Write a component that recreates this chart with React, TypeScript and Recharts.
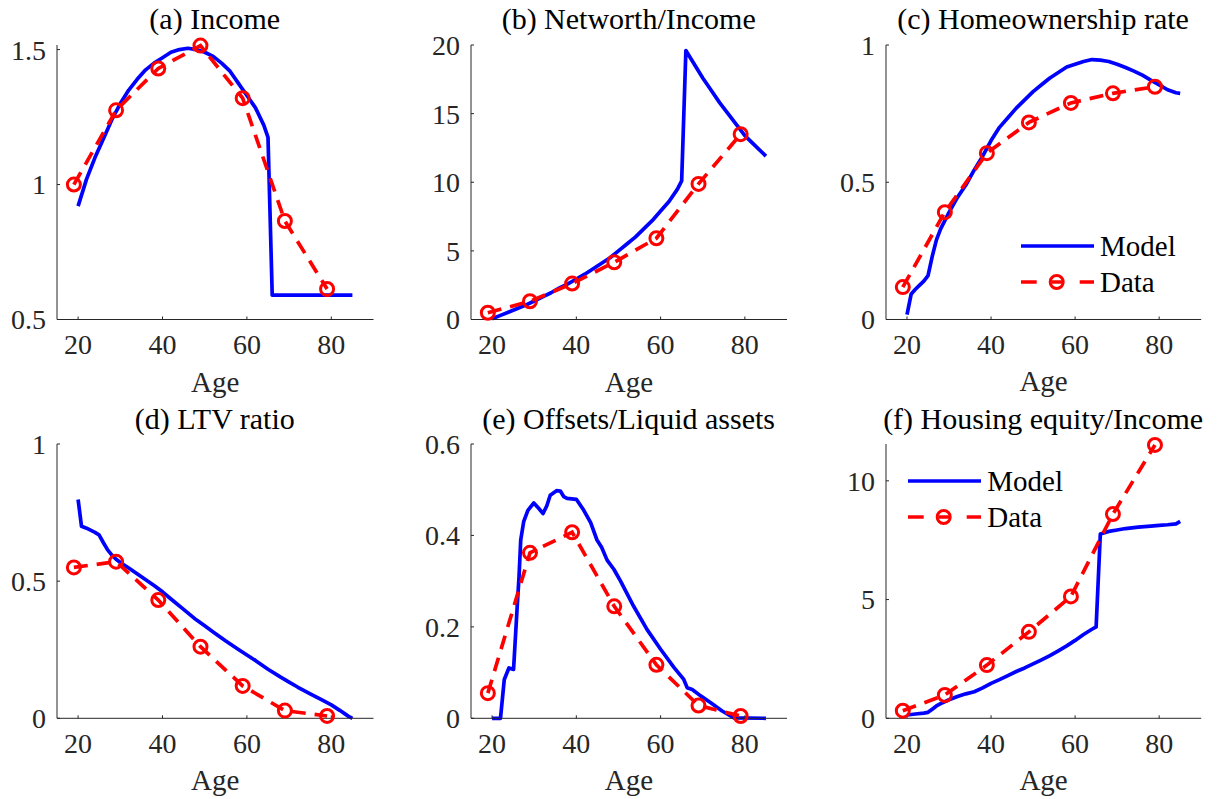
import React from 'react';
import { LineChart, Line, XAxis, YAxis, Legend } from 'recharts';

const FONT = 'Liberation Serif';
const AXIS = '#262626';

const dataAges = [19, 29, 39, 49, 59, 69, 79];
const xTicks = [20, 40, 60, 80];

// (a) Income
const incomeModelAges = [20, 22, 24, 26, 28, 30, 32, 34, 36, 38, 40, 42, 44, 46, 48, 50, 52, 54, 56, 58, 60, 62, 64, 65, 66, 70, 75, 80, 85];
const incomeModelValues = [0.92, 1.02, 1.1, 1.17, 1.24, 1.3, 1.35, 1.39, 1.425, 1.45, 1.47, 1.49, 1.5, 1.505, 1.5, 1.49, 1.475, 1.45, 1.42, 1.375, 1.33, 1.285, 1.22, 1.175, 0.59, 0.59, 0.59, 0.59, 0.59];
const incomeDataValues = [1.0, 1.275, 1.43, 1.515, 1.32, 0.865, 0.613];
const incomeTicks = [0.5, 1, 1.5];

// (b) Networth/Income
const networthModelAges = [20, 22, 24, 26, 28, 30, 32, 34, 36, 38, 40, 42, 44, 46, 48, 50, 52, 54, 56, 58, 60, 62, 64, 65, 66, 68, 70, 72, 74, 76, 78, 80, 82, 85];
const networthModelValues = [0.05, 0.3, 0.55, 0.8, 1.05, 1.35, 1.65, 1.95, 2.3, 2.6, 2.95, 3.3, 3.7, 4.1, 4.5, 5.0, 5.5, 6.0, 6.6, 7.2, 7.9, 8.6, 9.5, 10.1, 19.6, 18.6, 17.6, 16.7, 15.8, 15.0, 14.2, 13.4, 12.8, 11.9];
const networthDataValues = [0.49, 1.33, 2.62, 4.17, 5.92, 9.88, 13.5];
const networthTicks = [0, 5, 10, 15, 20];

// (c) Homeownership rate
const homeModelAges = [20, 21, 22, 23, 24, 25, 26, 27, 28, 29, 30, 32, 34, 36, 38, 40, 42, 44, 46, 48, 50, 52, 54, 56, 58, 60, 62, 64, 66, 68, 70, 72, 74, 76, 78, 80, 82, 84, 85];
const homeModelValues = [0.018, 0.093, 0.11, 0.125, 0.14, 0.16, 0.23, 0.29, 0.33, 0.36, 0.39, 0.445, 0.49, 0.545, 0.595, 0.652, 0.7, 0.735, 0.77, 0.8, 0.83, 0.855, 0.88, 0.9, 0.92, 0.93, 0.94, 0.947, 0.945, 0.94, 0.93, 0.918, 0.905, 0.89, 0.872, 0.855, 0.837, 0.826, 0.824];
const homeDataValues = [0.118, 0.391, 0.606, 0.718, 0.789, 0.824, 0.848];
const homeTicks = [0, 0.5, 1];

// (d) LTV ratio
const ltvModelAges = [20, 20.8, 22, 24, 25, 26, 27, 28, 29, 30, 32, 35, 38, 40, 42, 45, 48, 50, 52, 55, 58, 60, 62, 65, 68, 70, 72, 75, 78, 80, 82, 84, 85];
const ltvModelValues = [0.798, 0.7, 0.693, 0.678, 0.668, 0.64, 0.614, 0.595, 0.58, 0.568, 0.548, 0.516, 0.484, 0.461, 0.435, 0.397, 0.359, 0.337, 0.315, 0.282, 0.251, 0.231, 0.211, 0.179, 0.15, 0.132, 0.114, 0.089, 0.065, 0.049, 0.029, 0.008, 0.0];
const ltvDataValues = [0.55, 0.571, 0.431, 0.261, 0.118, 0.028, 0.0085];
const ltvTicks = [0, 0.5, 1];

// (e) Offsets/Liquid assets
const offsetModelAges = [20, 22, 22.9, 24, 25.1, 26, 26.4, 26.8, 27.5, 28.5, 29.9, 31, 32.1, 33, 33.8, 35.3, 36.2, 37, 37.8, 40, 41.7, 43.4, 44.9, 46, 47.3, 48.9, 50.5, 53.6, 56.8, 60, 63.2, 65.5, 66.3, 67.5, 69.5, 71.9, 74.6, 77.4, 85];
const offsetModelValues = [0, 0, 0.085, 0.11, 0.107, 0.25, 0.31, 0.39, 0.43, 0.455, 0.471, 0.46, 0.448, 0.465, 0.488, 0.498, 0.497, 0.485, 0.481, 0.479, 0.456, 0.428, 0.39, 0.374, 0.346, 0.326, 0.3, 0.245, 0.194, 0.151, 0.111, 0.085, 0.067, 0.063, 0.049, 0.034, 0.016, 0.001, 0];
const offsetDataValues = [0.055, 0.362, 0.407, 0.245, 0.117, 0.028, 0.005];
const offsetTicks = [0, 0.2, 0.4, 0.6];

// (f) Housing equity/Income
const equityModelAges = [20, 22, 24, 25, 26, 27, 28, 30, 32, 34, 36, 38, 40, 42, 44, 46, 48, 50, 52, 54, 56, 58, 60, 62, 64, 65, 66, 68, 70, 72, 75, 78, 80, 82, 84, 85];
const equityModelValues = [0.14, 0.18, 0.22, 0.25, 0.38, 0.52, 0.62, 0.78, 0.92, 1.03, 1.12, 1.28, 1.47, 1.63, 1.8, 1.97, 2.12, 2.29, 2.46, 2.64, 2.84, 3.05, 3.28, 3.53, 3.75, 3.85, 7.76, 7.87, 7.93, 7.99, 8.05, 8.09, 8.12, 8.15, 8.19, 8.29];
const equityDataValues = [0.32, 0.98, 2.24, 3.64, 5.13, 8.6, 11.51];
const equityTicks = [0, 5, 10];

const zip = (ages: number[], vals: number[]) => ages.map((age, i) => ({ age, v: vals[i] }));

const COLS = [
  { l: 56.5, r: 373 },
  { l: 470.7, r: 786.7 },
  { l: 885.5, r: 1200.7 },
];
const ROWS = [
  { t: 44.5, b: 319 },
  { t: 444, b: 718.3 },
];

const ML = 60;
const MT = 45;
const MR = 20;
const XH = 80;

function LegendBox() {
  return (
    <div style={{ fontFamily: FONT, fontSize: 29, color: '#000', whiteSpace: 'nowrap' }}>
      <div style={{ display: 'flex', alignItems: 'center', height: 36 }}>
        <svg width={73} height={36} style={{ display: 'block' }}>
          <line x1={0} x2={73} y1={18} y2={18} stroke="#0000ff" strokeWidth={3.5} />
        </svg>
        <span style={{ marginLeft: 6, lineHeight: '36px' }}>Model</span>
      </div>
      <div style={{ display: 'flex', alignItems: 'center', height: 36 }}>
        <svg width={73} height={36} style={{ display: 'block' }}>
          <line x1={0} x2={15.7} y1={18} y2={18} stroke="#ff0000" strokeWidth={3.5} />
          <line x1={30.5} x2={41} y1={18} y2={18} stroke="#ff0000" strokeWidth={3.5} />
          <line x1={58.7} x2={73} y1={18} y2={18} stroke="#ff0000" strokeWidth={3.5} />
          <circle cx={35.7} cy={18} r={6.5} stroke="#ff0000" strokeWidth={3} fill="none" />
        </svg>
        <span style={{ marginLeft: 6, lineHeight: '36px' }}>Data</span>
      </div>
    </div>
  );
}

type PanelProps = {
  col: number;
  row: number;
  title: string;
  modelAges: number[];
  modelValues: number[];
  dataValues: number[];
  domain: [number, number];
  ticks: number[];
  legendPos?: { left: number; top: number };
};

function Panel({ col, row, title, modelAges, modelValues, dataValues, domain, ticks, legendPos }: PanelProps) {
  const { l, r } = COLS[col];
  const { t, b } = ROWS[row];
  const width = r - l + ML + MR;
  const height = b - t + MT + XH;
  const left = l - ML;
  const top = t - MT;
  const model = zip(modelAges, modelValues);
  const data = zip(dataAges, dataValues);
  return (
    <>
      <div
        style={{
          position: 'absolute',
          left: (l + r) / 2 - 250,
          width: 500,
          top: t - 16.5 - 24,
          textAlign: 'center',
          fontFamily: FONT,
          fontSize: 30,
          lineHeight: '30px',
          color: '#000',
          whiteSpace: 'nowrap',
        }}
      >
        {title}
      </div>
      <div style={{ position: 'absolute', left, top }}>
        <LineChart width={width} height={height} margin={{ top: MT, right: MR, left: 0, bottom: 0 }}>
          <XAxis
            type="number"
            dataKey="age"
            domain={[15, 90]}
            ticks={xTicks}
            interval={0}
            height={XH}
            tickSize={-3}
            tickMargin={18}
            stroke={AXIS}
            tick={{ fill: AXIS, fontSize: 28, fontFamily: FONT }}
            label={{ value: 'Age', position: 'insideBottom', offset: 8, fill: AXIS, fontSize: 29, fontFamily: FONT }}
          />
          <YAxis
            type="number"
            domain={domain}
            ticks={ticks}
            interval={0}
            width={ML}
            tickSize={-3}
            tickMargin={14}
            stroke={AXIS}
            tick={{ fill: AXIS, fontSize: 28, fontFamily: FONT }}
          />
          <Line
            data={model}
            dataKey="v"
            name="Model"
            type="linear"
            stroke="#0000ff"
            strokeWidth={3.7}
            strokeLinejoin="round"
            dot={false}
            activeDot={false}
            isAnimationActive={false}
          />
          <Line
            data={data}
            dataKey="v"
            name="Data"
            type="linear"
            stroke="#ff0000"
            strokeWidth={3.7}
            strokeDasharray="14 9"
            dot={{ r: 6.5, stroke: '#ff0000', strokeWidth: 3, fill: 'none', strokeDasharray: 'none' }}
            activeDot={false}
            isAnimationActive={false}
          />
          {legendPos && (
            <Legend
              layout="horizontal"
              verticalAlign="middle"
              align="center"
              wrapperStyle={{ left: legendPos.left, top: legendPos.top, width: 200, height: 72 }}
              content={() => <LegendBox />}
            />
          )}
        </LineChart>
      </div>
    </>
  );
}

export default function App() {
  return (
    <div style={{ position: 'absolute', left: 0, top: 0, width: 1225, height: 799, background: '#fff', fontFamily: FONT }}>
      <Panel col={0} row={0} title="(a) Income" modelAges={incomeModelAges} modelValues={incomeModelValues} dataValues={incomeDataValues} domain={[0.5, 1.517]} ticks={incomeTicks} />
      <Panel col={1} row={0} title="(b) Networth/Income" modelAges={networthModelAges} modelValues={networthModelValues} dataValues={networthDataValues} domain={[0, 20]} ticks={networthTicks} />
      <Panel col={2} row={0} title="(c) Homeownership rate" modelAges={homeModelAges} modelValues={homeModelValues} dataValues={homeDataValues} domain={[0, 1]} ticks={homeTicks} legendPos={{ left: 195.5, top: 228.2 }} />
      <Panel col={0} row={1} title="(d) LTV ratio" modelAges={ltvModelAges} modelValues={ltvModelValues} dataValues={ltvDataValues} domain={[0, 1]} ticks={ltvTicks} />
      <Panel col={1} row={1} title="(e) Offsets/Liquid assets" modelAges={offsetModelAges} modelValues={offsetModelValues} dataValues={offsetDataValues} domain={[0, 0.6]} ticks={offsetTicks} />
      <Panel col={2} row={1} title="(f) Housing equity/Income" modelAges={equityModelAges} modelValues={equityModelValues} dataValues={equityDataValues} domain={[0, 11.55]} ticks={equityTicks} legendPos={{ left: 82.8, top: 63.7 }} />
    </div>
  );
}
